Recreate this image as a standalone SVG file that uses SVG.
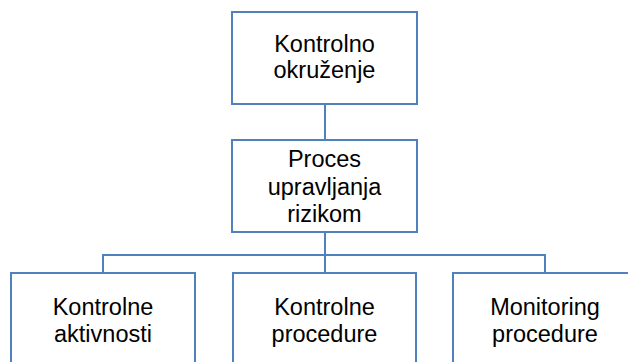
<svg xmlns="http://www.w3.org/2000/svg" width="628" height="362" viewBox="0 0 628 362">
<style>
.box{fill:#ffffff;stroke:#4f81bd;stroke-width:2}
.ln{fill:none;stroke:#4f81bd;stroke-width:2}
text{font-family:"Liberation Sans",Arial,sans-serif;font-size:23.5px;fill:#000;text-anchor:middle}
</style>
<rect width="628" height="362" fill="#ffffff"/>
<g id="connectors">
<path class="ln" d="M325,104V140"/>
<path class="ln" d="M325,232V273"/>
<path class="ln" d="M103,273V255H545V273"/>
</g>
<g id="n1"><rect class="box" x="232" y="12" width="185" height="92"/><text x="324.5" y="52">Kontrolno</text><text x="324.5" y="78">okruženje</text></g>
<g id="n2"><rect class="box" x="232" y="140" width="185" height="92"/><text x="324.5" y="167">Proces</text><text x="324.5" y="195">upravljanja</text><text x="324.5" y="222">rizikom</text></g>
<g id="n3"><rect class="box" x="11" y="273" width="184" height="100"/><text x="103" y="315">Kontrolne</text><text x="103" y="342">aktivnosti</text></g>
<g id="n4"><rect class="box" x="233" y="273" width="183" height="100"/><text x="324.5" y="315">Kontrolne</text><text x="324.5" y="342">procedure</text></g>
<g id="n5"><rect class="box" x="453" y="273" width="190" height="100"/><text x="545" y="315">Monitoring</text><text x="545" y="342">procedure</text></g>
</svg>
